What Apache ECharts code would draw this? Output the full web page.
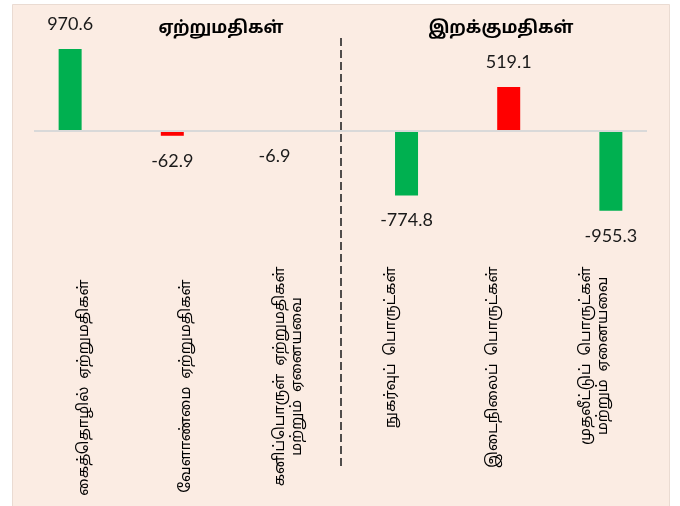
<!DOCTYPE html>
<html>
<head>
<meta charset="utf-8">
<script src="https://cdn.jsdelivr.net/npm/echarts@6/dist/echarts.min.js"></script>
<style>
html,body{margin:0;padding:0;background:#ffffff;}
#chart{width:680px;height:506px;}
</style>
</head>
<body>
<div id="chart"></div>
<script>
// ---- data ----
const categories = [
  'கைத்தொழில்  ஏற்றுமதிகள்',
  'வேளாண்மை  ஏற்றுமதிகள்',
  'கனிப்பொருள்  ஏற்றுமதிகள்\nமற்றும்  ஏனையவை',
  'நுகர்வுப்  பொருட்கள்',
  'இடைநிலைப்  பொருட்கள்',
  'முதலீட்டுப்  பொருட்கள்\nமற்றும்  ஏனையவை'
];
const exportValues = [970.6, -62.9, -6.9];
const importValues = [-774.8, 519.1, -955.3];
const barColors = ['#00B050', '#FF0000', '#FF0000', '#00B050', '#FF0000', '#00B050'];
const groupTitles = ['ஏற்றுமதிகள்', 'இறக்குமதிகள்'];

// ---- build ----
const tamilFont = "'Noto Sans Tamil','Lohit Tamil','Latha','Noto Sans',sans-serif";
const numFont = "Lato,'Open Sans',sans-serif";
const shiftedLabels = [0, 1]; // labels set slightly lower in the original

function item(v, i) {
  return {
    value: v,
    itemStyle: { color: barColors[i] },
    label: { position: v >= 0 ? 'top' : 'bottom' }
  };
}
const expData = categories.map((c, i) => i < exportValues.length ? item(exportValues[i], i) : '-');
const impData = categories.map((c, i) => i >= exportValues.length ? item(importValues[i - exportValues.length], i) : '-');

const labelCommon = {
  show: true,
  distance: 16,
  fontFamily: numFont,
  fontSize: 18,
  color: '#1a1a1a',
  formatter: p => p.value.toFixed(1)
};

const chart = echarts.init(document.getElementById('chart'), null, { renderer: 'canvas' });
chart.setOption({
  animation: false,
  backgroundColor: '#ffffff',
  title: [
    { text: groupTitles[0], left: 216, top: 16, textAlign: 'center',
      textStyle: { fontFamily: tamilFont, fontSize: 17, fontWeight: 'bold', color: '#000' } },
    { text: groupTitles[1], left: 496, top: 16, textAlign: 'center',
      textStyle: { fontFamily: tamilFont, fontSize: 17, fontWeight: 'bold', color: '#000' } }
  ],
  graphic: [
    { type: 'rect', z: -100, silent: true,
      shape: { x: 12.5, y: 4.5, width: 657, height: 502 },
      style: { fill: '#FBECE3', stroke: '#eadbd2', lineWidth: 1 } },
    { type: 'line', z: 50, silent: true,
      shape: { x1: 341, y1: 38, x2: 341, y2: 470 },
      style: { stroke: '#262626', lineWidth: 1.6, lineDash: [8, 4] } }
  ],
  grid: { left: 34, right: 33, top: 46.5, height: 210, containLabel: false, outerBoundsMode: 'none' },
  xAxis: {
    type: 'category',
    data: categories,
    axisLine: { show: false, onZero: false },
    axisTick: { show: false },
    splitLine: { show: false },
    axisLabel: {
      interval: 0,
      rotate: 90,
      margin: 10,
      fontFamily: tamilFont,
      fontSize: 15,
      color: '#000',
      formatter: (v, idx) => {
        const st = shiftedLabels.indexOf(idx) >= 0 ? 'p' : 'c';
        return v.split('\n').map(s => '{' + st + '|' + s + '}').join('\n');
      },
      rich: {
        c: { align: 'center', fontFamily: tamilFont, fontSize: 15, color: '#000', lineHeight: 17 },
        p: { align: 'center', fontFamily: tamilFont, fontSize: 15, color: '#000', lineHeight: 17, padding: [0, 13, 0, 0] }
      }
    }
  },
  yAxis: {
    type: 'value',
    min: -1500,
    max: 1000,
    show: false,
    splitLine: { show: false }
  },
  series: [
    {
      type: 'bar',
      name: 'exports',
      data: expData,
      barWidth: 23,
      barGap: '30%',
      label: labelCommon,
      markLine: {
        silent: true,
        symbol: 'none',
        label: { show: false },
        lineStyle: { color: '#d9d9d9', type: 'solid', width: 2 },
        data: [{ yAxis: 0 }]
      }
    },
    {
      type: 'bar',
      name: 'imports',
      data: impData,
      barWidth: 23,
      barGap: '30%',
      label: labelCommon
    }
  ]
});
</script>
</body>
</html>
